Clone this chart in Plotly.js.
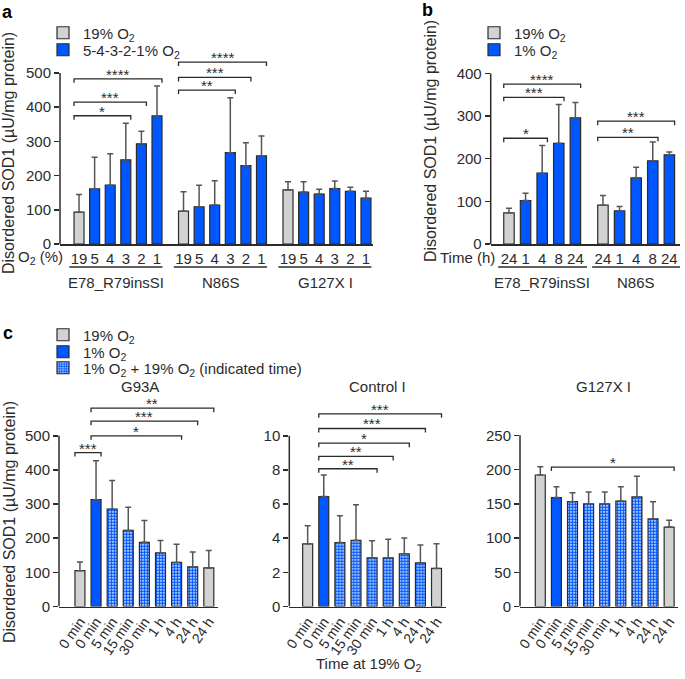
<!DOCTYPE html>
<html>
<head>
<meta charset="utf-8">
<script src="https://cdn.plot.ly/plotly-3.0.1.min.js"></script>
<style>body{margin:0;background:#fff;} #plot{width:685px;height:679px;}</style>
</head>
<body>
<div id="plot"></div>
<script>
// ---- panel a : stepwise hypoxia ----
const aGroups = ['E78_R79insSI', 'N86S', 'G127X I'];
const aLevels = ['19', '5', '4', '3', '2', '1'];
const aMean = [[93, 161, 172, 246, 293, 375], [96, 109, 114, 267, 229, 258], [158, 152, 146, 162, 154, 134]];
const aSD = [[52, 93, 92, 107, 37, 87], [57, 63, 71, 161, 67, 58], [24, 30, 14, 22, 12, 20]];
// [group, from, to, bracket level, stars]
const aSig = [[0, 0, 3, 375, '*'], [0, 0, 4, 415, '***'], [0, 0, 5, 483, '****'],
              [1, 0, 3, 450, '**'], [1, 0, 4, 487, '***'], [1, 0, 5, 532, '****']];

// ---- panel b : time at 1% O2 ----
const bGroups = ['E78_R79insSI', 'N86S'];
const bTimes = ['24', '1', '4', '8', '24'];
const bMean = [[73, 102, 166, 236, 296], [91, 78, 155, 195, 209]];
const bSD = [[11, 17, 65, 91, 36], [23, 10, 25, 44, 7]];
const bSig = [[0, 0, 2, 248, '*'], [0, 0, 3, 344, '***'], [0, 0, 4, 375, '****'],
              [1, 0, 3, 250, '**'], [1, 0, 4, 288, '***']];

// ---- panel c : reoxygenation ----
const cLabels = ['0 min', '0 min', '5 min', '15 min', '30 min', '1 h', '4 h', '24 h', '24 h'];
const cKinds = ['grey', 'blue', 'pat', 'pat', 'pat', 'pat', 'pat', 'pat', 'grey'];
const cTitles = ['G93A', 'Control I', 'G127X I'];
const g93aMean = [105, 313, 285, 223, 188, 157, 129, 116, 113];
const g93aSD = [25, 114, 84, 68, 64, 36, 53, 44, 51];
const ctrlMean = [3.67, 6.44, 3.75, 3.87, 2.85, 2.85, 3.09, 2.56, 2.23];
const ctrlSD = [1.06, 1.27, 1.56, 2.09, 1.0, 1.09, 0.93, 1.05, 1.44];
const g127Mean = [192, 159, 153, 150, 150, 154, 160, 128, 116];
const g127SD = [12, 16, 13, 17, 17, 21, 30, 25, 10];
const g93aSig = [[0, 1, 451, '***'], [1, 6, 500, '*'], [1, 7, 543, '***'], [1, 8, 581, '**']];
const ctrlSig = [[1, 4, 8.07, '**'], [1, 5, 8.79, '**'], [1, 6, 9.57, '*'], [1, 7, 10.43, '***'], [1, 8, 11.29, '***']];
const g127Sig = [[1, 8, 203.5, '*']];

const W = 685, H = 679;
const FONT = 'Liberation Sans, Arial, sans-serif';
const INK = '#2b2b2b';
const STYLE = {
    grey: { color: '#d2d2d2' },
    blue: { color: '#0057ff' },
    pat: { color: '#ffffff', pattern: { shape: '.', fgcolor: '#0057ff', bgcolor: '#ffffff', size: 3, solidity: 0.7 } }
};
const O2 = 'O<sub>2</sub>';

const traces = [];
const layout = {
    width: W, height: H,
    margin: { l: 0, r: 0, t: 0, b: 0 },
    paper_bgcolor: '#fff', plot_bgcolor: 'rgba(0,0,0,0)',
    font: { family: FONT, size: 15, color: INK },
    barmode: 'overlay',
    shapes: [], annotations: []
};

function axisIds(k) {
    const s = k === 1 ? '' : String(k);
    return { x: 'x' + s, y: 'y' + s, xa: 'xaxis' + s, ya: 'yaxis' + s };
}

function addPanel(k, o) {
    const id = axisIds(k);
    layout[id.xa] = {
        domain: [o.xd[0] / W, o.xd[1] / W], range: o.xr, anchor: id.y,
        showline: true, linecolor: INK, linewidth: 1.5, ticks: '',
        tickmode: 'array', tickvals: o.xs, ticktext: o.labels, tickangle: o.angle,
        tickfont: { size: o.tf }, showgrid: false, zeroline: false
    };
    layout[id.ya] = {
        domain: [1 - o.yd[0] / H, 1 - o.yd[1] / H], range: o.yr, anchor: id.x,
        showline: false, ticks: 'outside', ticklen: 5, tickwidth: 1.5, tickcolor: INK,
        tickmode: 'array', tickvals: o.yt, showgrid: false, zeroline: false,
        tickfont: { size: 15 }
    };
    // y axis line only up to the top tick
    layout.shapes.push({
        type: 'line', xref: id.x + ' domain', x0: 0, x1: 0, yref: id.y,
        y0: 0, y1: o.yt[o.yt.length - 1], line: { color: INK, width: 1.5 }
    });
    // bars, split by fill style
    ['grey', 'blue', 'pat'].forEach(kind => {
        const idx = o.kinds.map((kd, i) => kd === kind ? i : -1).filter(i => i >= 0);
        if (!idx.length) return;
        const leg = o.legends ? o.legends[kind] : null;
        traces.push({
            type: 'bar', xaxis: id.x, yaxis: id.y,
            x: idx.map(i => o.xs[i]), y: idx.map(i => o.ys[i]),
            width: o.bw, name: leg ? leg[1] : kind,
            marker: Object.assign({ line: { color: INK, width: 1.2 } }, STYLE[kind]),
            error_y: {
                type: 'data', symmetric: false, array: idx.map(i => o.sd[i]),
                arrayminus: idx.map(() => 0), color: '#555', thickness: 1.5, width: 3
            },
            showlegend: !!leg, legend: leg ? leg[0] : 'legend', hoverinfo: 'skip'
        });
    });
    // significance brackets
    const pxPerUnit = (o.yd[0] - o.yd[1]) / (o.yr[1] - o.yr[0]);
    const d = 4 / pxPerUnit;
    o.sig.forEach(([from, to, lvl, stars]) => {
        const x0 = o.xs[from] - o.bw / 2, x1 = o.xs[to] + o.bw / 2;
        layout.shapes.push({
            type: 'path', xref: id.x, yref: id.y,
            path: `M${x0},${lvl - d} L${x0},${lvl} L${x1},${lvl} L${x1},${lvl - d}`,
            line: { color: INK, width: 1.3 }
        });
        layout.annotations.push({
            xref: id.x, yref: id.y, x: (x0 + x1) / 2, y: lvl, text: stars,
            showarrow: false, yanchor: 'bottom', yshift: -6, font: { size: 15, color: INK }
        });
    });
}

function note(text, x, y, opts) {
    layout.annotations.push(Object.assign({
        xref: 'paper', yref: 'paper', x: x / W, y: 1 - y / H, text: text,
        xanchor: 'center', yanchor: 'middle',
        showarrow: false, font: { size: 15, color: INK }
    }, opts || {}));
}

// panel a
const aX = [], aY = [], aE = [], aK = [], aL = [];
aGroups.forEach((g, gi) => aLevels.forEach((l, i) => {
    aX.push(gi * 6.7 + i); aY.push(aMean[gi][i]); aE.push(aSD[gi][i]);
    aK.push(i === 0 ? 'grey' : 'blue'); aL.push(l);
}));
addPanel(1, {
    xd: [60, 373], yd: [244, 52.5], xr: [-1.22, 18.85], yr: [0, 560], yt: [0, 100, 200, 300, 400, 500],
    xs: aX, ys: aY, sd: aE, kinds: aK, labels: aL, angle: 0, tf: 15, bw: 0.64,
    sig: aSig.map(([g, f, t, l, s]) => [g * 6 + f, g * 6 + t, l, s]),
    legends: { grey: ['legend', '19% ' + O2], blue: ['legend2', '5-4-3-2-1% ' + O2] }
});
aGroups.forEach((g, gi) => {
    const first = aX[gi * 6], last = aX[gi * 6 + 5];
    layout.shapes.push({ type: 'line', xref: 'x', yref: 'paper', x0: first - 0.62, x1: last + 0.35,
        y0: 1 - 267 / H, y1: 1 - 267 / H, line: { color: INK, width: 1.3 } });
    layout.annotations.push({ xref: 'x', yref: 'paper', x: (first + last) / 2 - 0.1, y: 1 - 282 / H,
        yanchor: 'middle', text: g, showarrow: false, font: { size: 15, color: INK } });
});
note(O2 + ' (%)', 65, 257, { xanchor: 'right' });

// panel b
const bX = [], bY = [], bE = [], bK = [], bL = [];
bGroups.forEach((g, gi) => bTimes.forEach((t, i) => {
    bX.push(gi * 5.66 + i); bY.push(bMean[gi][i]); bE.push(bSD[gi][i]);
    bK.push(i === 0 ? 'grey' : 'blue'); bL.push(t);
}));
addPanel(2, {
    xd: [490.7, 680], yd: [244, 52.5], xr: [-1.1, 10.3], yr: [0, 449], yt: [0, 100, 200, 300, 400],
    xs: bX, ys: bY, sd: bE, kinds: bK, labels: bL, angle: 0, tf: 15, bw: 0.63,
    sig: bSig.map(([g, f, t, l, s]) => [g * 5 + f, g * 5 + t, l, s]),
    legends: { grey: ['legend3', '19% ' + O2], blue: ['legend4', '1% ' + O2] }
});
bGroups.forEach((g, gi) => {
    const first = bX[gi * 5], last = bX[gi * 5 + 4];
    layout.shapes.push({ type: 'line', xref: 'x2', yref: 'paper', x0: first - 0.65, x1: last + 0.7,
        y0: 1 - 267 / H, y1: 1 - 267 / H, line: { color: INK, width: 1.3 } });
    layout.annotations.push({ xref: 'x2', yref: 'paper', x: (first + last) / 2, y: 1 - 282 / H,
        yanchor: 'middle', text: g, showarrow: false, font: { size: 15, color: INK } });
});
note('Time (h)', 497, 257, { xanchor: 'right' });

// panel c
const cX = cLabels.map((l, i) => i);
const cPanels = [
    { k: 3, xd: [59, 218], xr: [-1.3, 8.57], yr: [0, 602], yt: [0, 100, 200, 300, 400, 500], ys: g93aMean, sd: g93aSD, sig: g93aSig },
    { k: 4, xd: [289.3, 445.7], xr: [-1.14, 8.57], yr: [0, 12.04], yt: [0, 2, 4, 6, 8, 10], ys: ctrlMean, sd: ctrlSD, sig: ctrlSig },
    { k: 5, xd: [520, 678], xr: [-1.26, 8.55], yr: [0, 300], yt: [0, 50, 100, 150, 200, 250], ys: g127Mean, sd: g127SD, sig: g127Sig }
];
cPanels.forEach((p, pi) => {
    addPanel(p.k, {
        xd: p.xd, yd: [606.5, 401], xr: p.xr, yr: p.yr, yt: p.yt,
        xs: cX, ys: p.ys, sd: p.sd, kinds: cKinds, labels: cLabels, angle: -55, tf: 14, bw: 0.62,
        sig: p.sig,
        legends: pi === 0 ? {
            grey: ['legend5', '19% ' + O2], blue: ['legend6', '1% ' + O2],
            pat: ['legend7', '1% ' + O2 + ' + 19% ' + O2 + ' (indicated time)']
        } : null
    });
});
note(cTitles[0], 140, 386);
note(cTitles[1], 377, 386);
note(cTitles[2], 603, 386);
note('Time at 19% ' + O2, 368, 664);

// legends: one entry each so rows sit where the reference puts them
const legBase = { xref: 'paper', yref: 'paper', xanchor: 'left', yanchor: 'middle', bgcolor: 'rgba(0,0,0,0)',
    borderwidth: 0, font: { size: 15, color: INK }, itemclick: false, itemdoubleclick: false };
const legPos = [[43, 33], [43, 50], [474, 33], [474, 50], [43, 335], [43, 352], [43, 368]];
legPos.forEach(([x, y], i) => {
    layout[i === 0 ? 'legend' : 'legend' + (i + 1)] = Object.assign({}, legBase, { x: x / W, y: 1 - y / H });
});

// y titles and panel letters
const yTitle = 'Disordered SOD1 (µU/mg protein)';
note(yTitle, 9, 153, { textangle: -90, font: { size: 16, color: INK } });
note(yTitle, 430, 141, { textangle: -90, font: { size: 16, color: INK } });
note(yTitle, 9, 522, { textangle: -90, font: { size: 16, color: INK } });
note('<b>a</b>', 8, 12, { font: { size: 18, color: '#000' } });
note('<b>b</b>', 427, 10, { font: { size: 18, color: '#000' } });
note('<b>c</b>', 8, 333, { font: { size: 18, color: '#000' } });

Plotly.newPlot('plot', traces, layout, { displayModeBar: false, staticPlot: true });
</script>
</body>
</html>
